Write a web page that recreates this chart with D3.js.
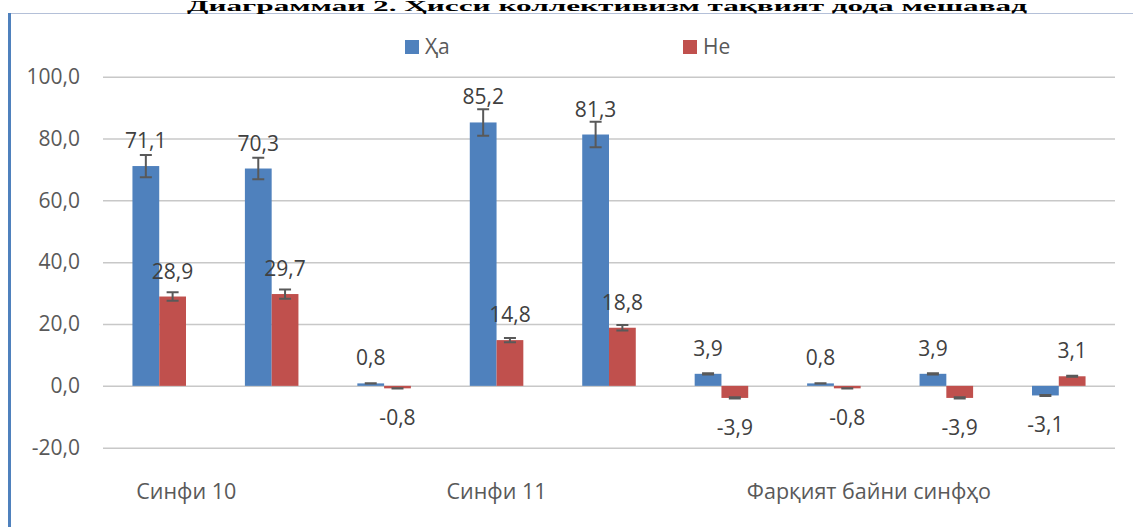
<!DOCTYPE html>
<html>
<head>
<meta charset="utf-8">
<script src="https://cdn.jsdelivr.net/npm/d3@7"></script>
<style>
  body { margin: 0; background: #fff; }
  svg { display: block; font-family: "Open Sans", "Noto Sans", sans-serif; }
</style>
</head>
<body>
<svg id="chart" width="1133" height="527"></svg>
<script>
const title = 'Диаграммаи 2. Ҳисси коллективизм тақвият дода мешавад';
const categories = ['Синфи 10', '', '', 'Синфи 11', '', '', 'Фарқият байни синфҳо', '', ''];
const seriesNames = ['Ҳа', 'Не'];
const haValues = [71.1, 70.3, 0.8, 85.2, 81.3, 3.9, 0.8, 3.9, -3.1];
const neValues = [28.9, 29.7, -0.8, 14.8, 18.8, -3.9, -0.8, -3.9, 3.1];
const haErrors = [3.6, 3.5, 0.04, 4.3, 4.1, 0.2, 0.04, 0.2, 0.16];
const neErrors = [1.4, 1.5, 0.04, 0.7, 0.9, 0.2, 0.04, 0.2, 0.16];
const yTicks = [-20, 0, 20, 40, 60, 80, 100];

const colors = ['#4f81bd', '#c0504d'];
const margin = { top: 76.7, right: 18, bottom: 79.3, left: 103 };
const outerWidth = 1133, outerHeight = 527;
const width = outerWidth - margin.left - margin.right;
const height = outerHeight - margin.top - margin.bottom;
const fontSize = 21;

const fmt = v => d3.format('.1f')(v).replace('.', ',').replace('−', '-');

const svg = d3.select('#chart');

// frame
svg.append('line')
  .attr('x1', 8).attr('x2', outerWidth).attr('y1', 13.5).attr('y2', 13.5)
  .attr('stroke', '#b4c0d8').attr('stroke-width', 1.2);
svg.append('line')
  .attr('x1', 9.5).attr('x2', 9.5).attr('y1', 13).attr('y2', outerHeight)
  .attr('stroke', '#4f81bd').attr('stroke-width', 3);

// title squeezed into the strip above the frame
svg.append('text')
  .attr('x', 607).attr('y', 10.5)
  .attr('text-anchor', 'middle')
  .attr('font-family', '"Liberation Serif", "DejaVu Serif", serif')
  .attr('font-weight', 'bold')
  .attr('font-size', 14)
  .attr('textLength', 840)
  .attr('lengthAdjust', 'spacingAndGlyphs')
  .attr('fill', '#000')
  .text(title);

const g = svg.append('g')
  .attr('transform', `translate(${margin.left},${margin.top})`);

const y = d3.scaleLinear().domain([-20, 100]).range([height, 0]);
const x0 = d3.scaleBand().domain(d3.range(categories.length)).range([0, width]);
const x1 = d3.scaleBand().domain([0, 1]).range([0, x0.bandwidth()]).paddingOuter(1.1);

// gridlines + y labels
g.append('g')
  .call(d3.axisLeft(y).tickValues(yTicks).tickSize(-width).tickFormat(fmt).tickPadding(23))
  .call(a => a.select('.domain').remove())
  .call(a => a.selectAll('.tick line').attr('stroke', '#c8c8c8').attr('stroke-width', 1.5))
  .call(a => a.selectAll('.tick text')
    .attr('fill', '#595959').attr('font-size', fontSize)
    .attr('font-family', '"Open Sans", "Noto Sans", sans-serif'));

const rows = categories.map((c, i) => ({
  i,
  vals: [
    { s: 0, v: haValues[i], e: haErrors[i] },
    { s: 1, v: neValues[i], e: neErrors[i] }
  ]
}));

const groups = g.selectAll('.grp').data(rows).join('g')
  .attr('class', 'grp')
  .attr('transform', d => `translate(${x0(d.i)},0)`);

const bars = groups.selectAll('.bar').data(d => d.vals).join('g').attr('class', 'bar');

bars.append('rect')
  .attr('x', d => x1(d.s))
  .attr('width', x1.bandwidth())
  .attr('y', d => y(Math.max(0, d.v)))
  .attr('height', d => Math.abs(y(d.v) - y(0)))
  .attr('fill', d => colors[d.s]);

// error bars
const cx = d => x1(d.s) + x1.bandwidth() / 2;
bars.append('path')
  .attr('d', d => {
    const t = y(d.v + d.e), b = y(d.v - d.e), c = cx(d);
    return `M${c},${t}V${b}M${c - 6},${t}H${c + 6}M${c - 6},${b}H${c + 6}`;
  })
  .attr('fill', 'none')
  .attr('stroke', '#595959')
  .attr('stroke-width', 2);

// data labels
bars.append('text')
  .attr('x', cx)
  .attr('y', d => d.v >= 0 ? y(d.v) - 18 : y(d.v) + 37)
  .attr('text-anchor', 'middle')
  .attr('font-size', fontSize)
  .attr('fill', '#404040')
  .text(d => fmt(d.v));

// category labels
const catShift = [27, 0, 0, 0, 0, 0, 35, 0, 0];
g.selectAll('.cat').data(categories).join('text')
  .attr('class', 'cat')
  .attr('x', (d, i) => x0(i) + x0.bandwidth() / 2 + catShift[i])
  .attr('y', height + 51)
  .attr('text-anchor', 'middle')
  .attr('font-size', fontSize + 0.5)
  .attr('fill', '#595959')
  .text(d => d);

// legend
const legend = svg.append('g');
const legendX = [405, 683];
seriesNames.forEach((name, i) => {
  legend.append('rect')
    .attr('x', legendX[i]).attr('y', 40).attr('width', 14).attr('height', 14)
    .attr('fill', colors[i]);
  legend.append('text')
    .attr('x', legendX[i] + 20).attr('y', 54)
    .attr('font-size', fontSize).attr('fill', '#595959')
    .text(name);
});
</script>
</body>
</html>
